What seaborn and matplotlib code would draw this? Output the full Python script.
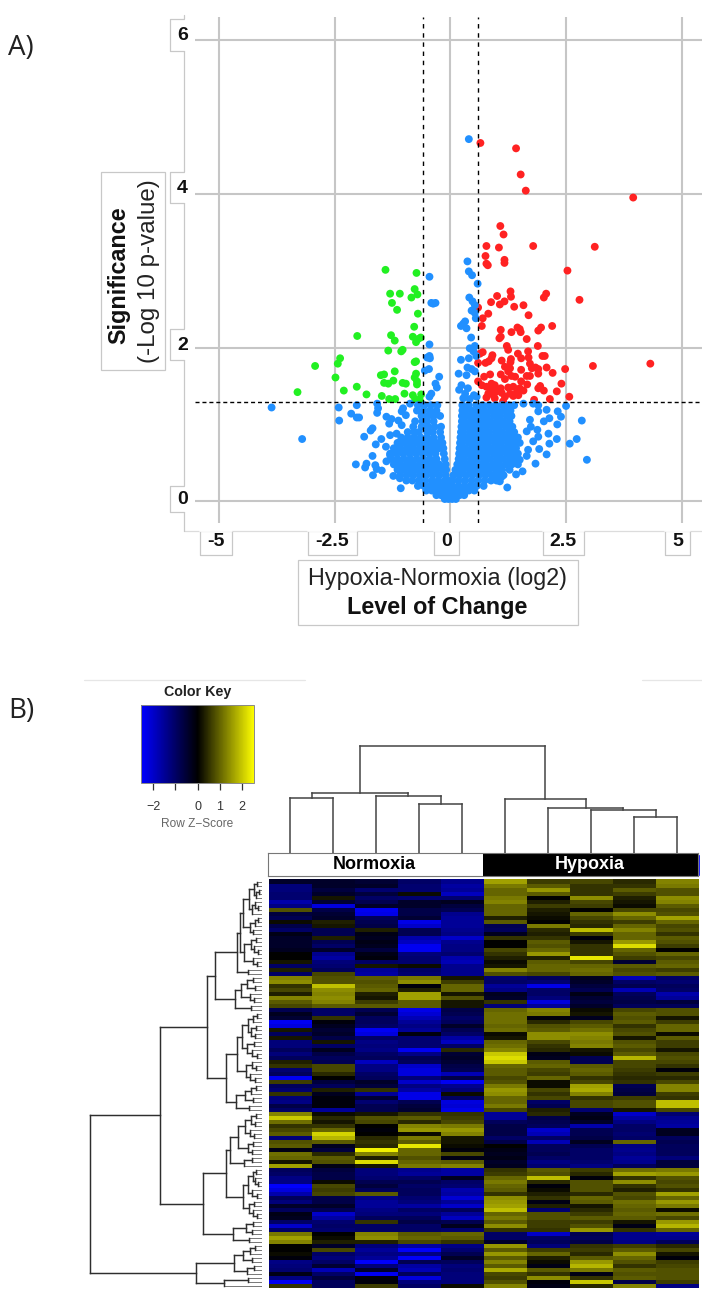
import numpy as np
import pandas as pd
import matplotlib
matplotlib.use('Agg')
import matplotlib.pyplot as plt
from matplotlib.colors import LinearSegmentedColormap
from matplotlib.patches import Rectangle
import seaborn as sns

W, H = 702, 1289

# Volcano data
red_x = [0.65,1.42,1.52,1.63,3.95,1.08,1.15,0.78,1.05,1.79,3.12,0.76,1.17,1.17,0.78,0.81,2.53,1.30,2.07,2.02,
         1.01,1.31,1.17,0.88,1.07,2.79,1.58,1.38,0.60,0.82,1.69,0.70,0.68,2.20,1.96,1.90,1.45,1.50,1.32,1.52,
         1.09,1.09,1.06,1.65,1.22,1.25,1.89,0.70,0.64,1.46,1.68,1.99,2.04,0.91,0.89,1.53,1.69,1.11,1.31,1.30,
         0.83,0.76,0.60,1.72,1.84,1.90,2.08,2.48,3.08,4.32,1.18,1.29,1.53,1.76,1.25,2.21,1.90,1.32,1.40,0.86,
         1.09,0.73,1.65,1.72,1.18,1.53,0.60,0.68,0.89,0.96,1.66,2.40,1.94,1.90,2.02,2.30,1.36,1.25,1.09,0.78,
         0.89,1.00,1.50,1.58,1.43,1.29,1.11,0.82,0.93,1.18,1.36,1.47,2.57,2.15,1.81,0.78,0.96,1.14]
red_y = [4.66,4.59,4.25,4.04,3.95,3.58,3.47,3.32,3.30,3.32,3.31,3.19,3.14,3.10,3.09,3.07,3.00,2.73,2.70,2.65,
         2.67,2.66,2.60,2.59,2.56,2.62,2.55,2.53,2.52,2.44,2.42,2.38,2.28,2.28,2.26,2.22,2.26,2.24,2.20,2.20,
         2.23,2.14,2.12,2.11,2.02,1.97,2.02,1.94,1.92,1.92,1.95,1.89,1.89,1.90,1.86,1.86,1.87,1.83,1.85,1.81,
         1.82,1.80,1.80,1.79,1.74,1.72,1.74,1.72,1.76,1.79,1.75,1.73,1.71,1.73,1.69,1.67,1.66,1.63,1.62,1.65,
         1.65,1.62,1.63,1.63,1.59,1.56,1.56,1.51,1.53,1.51,1.52,1.53,1.50,1.47,1.44,1.43,1.49,1.48,1.47,1.49,
         1.45,1.43,1.47,1.44,1.41,1.40,1.41,1.40,1.38,1.36,1.37,1.38,1.36,1.33,1.32,1.35,1.34,1.30]

green_x = [-1.40,-0.73,-0.77,-1.30,-1.09,-0.71,-0.84,-1.26,-1.15,-0.70,-0.78,-2.01,-1.28,-0.81,-0.64,-0.70,-1.20,
           -0.74,-1.34,-1.03,-1.06,-2.38,-2.43,-2.92,-0.74,-0.77,-1.20,-0.74,-1.43,-1.50,-0.77,-2.48,-1.43,-1.34,
           -1.23,-1.03,-0.96,-0.72,-0.72,-2.02,-2.30,-3.30,-1.81,-1.48,-0.99,-0.81,-0.63,-1.32,-1.19,-0.76,-0.66]
green_y = [3.01,2.97,2.76,2.70,2.70,2.69,2.65,2.58,2.49,2.44,2.27,2.15,2.16,2.14,2.13,2.11,2.09,
           2.07,1.96,1.97,1.95,1.86,1.79,1.76,1.82,1.81,1.69,1.66,1.65,1.64,1.61,1.61,1.54,1.53,
           1.57,1.54,1.53,1.56,1.52,1.49,1.44,1.42,1.39,1.37,1.40,1.38,1.39,1.33,1.33,1.33,1.32]

blue_x = [0.40,0.37,0.40,0.47,-0.45,0.59,0.41,0.48,-0.41,-0.32,-0.37,0.53,0.46,0.53,0.55,0.32,0.23,0.35,0.28,0.45,
          0.53,-0.45,0.42,0.50,0.56,0.23,0.40,-0.45,-0.50,-0.44,0.37,0.46,-0.46,-0.55,0.53,0.18,-0.24,-0.32,0.35,-0.29,
          0.24,0.19,0.38,-0.41,-0.45,0.32,0.51,0.28,0.42,0.57,
          -3.86,-2.41,-2.02,-1.58,-1.56,-1.58,-2.40,-3.20,-2.14,-2.02,-1.97,-1.38,-1.27,-1.32,-1.12,-1.05,-1.02,-0.96,-1.05,-0.87,
          -1.30,-1.16,-1.68,-1.72,-1.86,-1.49,-1.61,-1.39,-1.30,-1.68,-1.38,-2.04,-1.81,-1.84,-1.62,-1.59,-1.67,-1.48,-1.23,-1.09,-1.07,
          2.84,2.95,2.73,2.58,2.50,2.32,2.39,2.31,2.12,2.30,2.14,1.92,2.08,1.84,1.56,1.23,2.08,2.14,2.02,1.90,1.90,1.72,1.74,1.65,1.88,
          1.90,1.79,1.68,1.65,1.50,1.42,1.11,1.07,1.58,1.79]
blue_y = [4.71,3.12,2.99,2.94,2.92,2.83,2.65,2.60,2.58,2.58,2.57,2.55,2.48,2.45,2.38,2.34,2.28,2.25,2.31,2.13,
          2.02,2.04,1.99,1.95,1.89,1.84,1.86,1.89,1.87,1.86,1.74,1.72,1.72,1.70,1.69,1.66,1.62,1.53,1.64,1.48,
          1.51,1.45,1.47,1.40,1.36,1.40,1.38,1.34,1.33,1.36,
          1.22,1.22,1.25,1.27,1.21,1.15,1.05,0.81,1.14,1.09,1.09,1.10,1.07,1.01,1.05,0.99,1.21,1.12,1.17,1.27,
          0.86,0.88,0.95,0.92,0.84,0.81,0.74,0.71,0.60,0.59,0.52,0.48,0.49,0.44,0.47,0.42,0.34,0.40,0.33,0.30,0.17,
          1.05,0.54,0.81,0.75,1.24,1.17,1.10,1.00,0.88,0.81,0.75,0.68,0.61,0.49,0.39,0.18,1.19,1.08,1.04,1.17,1.25,1.06,0.97,0.91,0.93,
          0.84,0.78,0.67,0.59,0.54,0.35,0.32,0.26,1.27,1.27]

# The dense part of the cloud, row by row
blue_cloud = [
    (0.03, [-0.12,-0.04,0.04,0.12]),
    (0.08, [-0.3,-0.2,-0.1,0,0.1,0.2,0.3]),
    (0.14, [-0.52,-0.4,-0.28,-0.16,-0.05,0.05,0.16,0.28,0.4,0.52]),
    (0.20, [-0.7,-0.57,-0.44,-0.31,-0.18,-0.06,0.05,0.18,0.31,0.44,0.57,0.72]),
    (0.27, [-0.95,-0.82,-0.68,-0.54,-0.4,-0.26,-0.12,-0.04,0.05,0.18,0.32,0.46,0.6,0.74,0.88,1.0]),
    (0.34, [-1.08,-0.94,-0.8,-0.66,-0.52,-0.38,-0.24,-0.1,0.07,0.2,0.34,0.48,0.62,0.76,0.9,1.02,1.15]),
    (0.41, [-1.14,-1.0,-0.86,-0.72,-0.58,-0.44,-0.3,-0.16,-0.09,0.11,0.15,0.28,0.42,0.56,0.7,0.84,0.98,1.12,1.28]),
    (0.48, [-1.22,-1.08,-0.94,-0.8,-0.66,-0.52,-0.38,-0.24,-0.1,0.15,0.22,0.36,0.5,0.64,0.78,0.92,1.06,1.2,1.33,1.46]),
    (0.55, [-1.28,-1.14,-1.0,-0.86,-0.72,-0.58,-0.44,-0.3,-0.12,0.18,0.3,0.44,0.58,0.72,0.86,1.0,1.14,1.28,1.42]),
    (0.62, [-1.3,-1.16,-1.02,-0.88,-0.74,-0.6,-0.46,-0.32,-0.14,0.19,0.24,0.38,0.52,0.66,0.8,0.94,1.08,1.22,1.36,1.46]),
    (0.69, [-1.22,-1.08,-0.94,-0.8,-0.66,-0.52,-0.38,-0.24,-0.15,0.2,0.32,0.46,0.6,0.74,0.88,1.02,1.16,1.3,1.42]),
    (0.76, [-1.14,-1.0,-0.86,-0.72,-0.58,-0.44,-0.3,-0.17,0.21,0.26,0.4,0.54,0.68,0.82,0.96,1.1,1.24,1.38,1.5]),
    (0.83, [-1.06,-0.92,-0.78,-0.64,-0.5,-0.36,-0.2,0.22,0.34,0.48,0.62,0.76,0.9,1.04,1.18,1.32,1.46]),
    (0.90, [-0.92,-0.78,-0.68,-0.5,-0.38,-0.22,0.23,0.28,0.42,0.56,0.7,0.84,0.98,1.12,1.26,1.38]),
    (0.97, [-0.8,-0.62,-0.48,-0.34,-0.2,0.24,0.36,0.5,0.64,0.78,0.92,1.06,1.2,1.34]),
    (1.04, [-0.76,-0.6,-0.5,-0.36,0.25,0.3,0.44,0.58,0.72,0.86,1.0,1.14,1.28]),
    (1.11, [-0.62,-0.48,-0.36,-0.22,0.25,0.38,0.52,0.66,0.8,0.94,1.08,1.22,1.32]),
    (1.18, [-0.72,-0.58,-0.44,-0.3,0.26,0.32,0.46,0.6,0.74,0.88,1.02,1.16,1.3]),
    (1.25, [-0.7,-0.56,-0.42,-0.28,0.26,0.4,0.56,0.7,0.84,0.98,1.12,1.26,1.38]),
]

x_ticks = [-5, -2.5, 0, 2.5, 5]
y_ticks = [0, 2, 4, 6]
x_tick_labels = ['-5', '-2.5', '0', '2.5', '5']
y_tick_labels = ['0', '2', '4', '6']
fc_cut = [-0.58, 0.59]
p_cut = 1.295

# Heatmap values, z-scores, Normoxia 5 columns then Hypoxia 5 columns
heat_rows = [
    [-.4,-.4,-.5,-1.0,-1.4,1.6,.6,.7,.4,1.3],
    [-1.2,-.4,-.4,-1.1,-1.6,1.2,.9,.5,.5,1.2],
    [-1.2,-.6,-1.1,-1.1,-1.5,1.0,1.5,.5,.9,.8],
    [-1.1,-.4,-.6,.1,-1.9,1.0,.9,.5,.6,.8],
    [-1.1,.2,-1.0,-1.1,-1.1,1.2,0,1.4,.3,1.4],
    [-1.7,-.5,-.8,-.4,-.3,1.3,.3,.7,.2,1.3],
    [-1.3,-2.2,-.4,-.4,-.6,1.0,.6,.6,.1,.9],
    [.8,-.7,-2.4,-.7,-.8,1.0,.3,0,.7,.7],
    [-.6,-.5,-2.3,-.7,-1.4,1.0,.2,1.0,1.4,.8],
    [-.8,-.4,-.9,-.5,-1.5,.3,.1,.7,1.0,1.6],
    [.1,.3,-.8,-2.3,-1.5,.9,0,.5,.6,1.0],
    [-.7,.2,-.7,-2.0,-1.5,-.8,1.2,.4,1.0,.7],
    [-1.0,-.8,.3,-.8,-1.4,-.9,.4,1.9,1.3,.8],
    [-.2,-.8,-.2,-.8,-1.3,-.3,.3,.6,1.0,.5],
    [-.4,.3,-.3,-1.7,-2.0,.5,.5,-.1,1.0,.9],
    [-.4,-.8,-.2,-1.9,-1.4,0,.9,.2,1.5,.8],
    [-.4,-1.0,-.3,-2.4,-1.3,0,.8,.5,2.2,.6],
    [-.3,-.4,-.6,-2.4,-1.3,.7,1.0,.5,1.0,0],
    [0,-1.4,-.2,-1.2,-1.1,.5,1.5,.5,.8,1.0],
    [0,-1.6,-.1,-1.1,-1.7,.3,.3,2.3,.6,.7],
    [.2,-1.2,-1.0,-1.1,-1.8,.1,.9,.7,-.5,.9],
    [-1.0,-1.1,.2,.1,-1.4,.2,1.0,1.0,.9,1.0],
    [.3,-.9,-1.5,-1.0,-1.4,1.3,1.0,1.1,.7,.6],
    [-1.0,.7,-1.6,-1.1,-1.4,.8,.7,1.0,.8,.9],
    [1.3,.8,.9,1.2,.2,-1.1,-.9,-.3,-1.8,-1.0],
    [1.4,.8,.8,1.4,.6,-1.0,-1.1,-.4,-1.0,-1.1],
    [.5,1.9,.9,-.1,1.0,-1.5,-2.3,-.6,-.8,-.9],
    [.7,1.4,1.0,.3,1.0,-1.3,-1.0,-.8,-1.8,-1.0],
    [.3,1.3,.3,1.6,.2,-.3,-1.0,-.2,-.9,-1.7],
    [1.3,1.4,.2,1.6,.8,-.4,-1.2,-.5,-.8,-1.5],
    [.9,1.3,.6,.9,.2,.5,-2.2,-.6,-.7,-.6],
    [.7,.9,.9,.9,.2,-1.2,-1.5,-.4,-.9,-.9],
    [-.8,-1.0,-.8,-2.3,-.7,1.0,1.3,.1,.7,.8],
    [-.3,-1.0,-.5,-2.1,-.8,1.1,1.2,.2,.9,.8],
    [-.5,.5,-.9,-1.8,-1.0,1.1,-.1,-.3,.8,.2],
    [-2.4,-.1,-.9,-1.5,-.9,1.1,.4,.7,.9,.6],
    [-2.2,-.3,-1.0,-1.3,-.4,1.0,.8,.9,.5,1.0],
    [.2,-.5,-2.4,-1.5,-.8,1.1,.9,1.1,.7,1.0],
    [-.9,-.4,-2.2,-.1,-1.0,.1,1.4,1.4,.8,.1],
    [.2,-.7,-1.0,-1.1,-1.6,.2,1.4,1.3,.2,.9],
    [-1.2,.2,-1.3,-1.1,-1.9,1.0,.7,1.2,.8,.6],
    [-1.2,-1.0,-1.2,-1.1,-1.0,1.1,.5,1.3,.9,.6],
    [-.9,-.3,-1.3,-2.4,.4,1.3,.4,.2,.7,.2],
    [-1.2,-.7,-1.0,-1.3,-.5,2.0,-.2,.1,.9,.7],
    [-.9,-.9,-.9,-.8,-.4,2.2,-.3,-.8,1.8,.8],
    [.3,-.8,-1.9,-.9,-.5,2.0,.9,-.8,.7,.7],
    [.5,.7,-1.3,-2.0,-.7,1.0,1.0,.9,.7,.5],
    [-1.1,.7,-1.3,-2.2,-.8,.9,.7,1.0,.6,-.1],
    [-.9,.4,-1.0,-2.2,-1.8,.9,.6,.9,.5,.6],
    [-2.4,0,-.9,-1.2,-.7,.7,1.0,.5,.4,.4],
    [.6,-.6,-.4,-2.0,-2.4,.8,.1,.7,.5,.7],
    [-.9,-.9,-.6,-1.3,-1.4,1.2,.1,1.6,-.8,1.3],
    [-1.1,.3,.5,-1.6,-1.2,1.5,.7,1.7,-.7,1.3],
    [.5,-.3,-1.5,-2.3,.1,1.4,.5,1.3,-.6,.6],
    [-1.2,-.1,-.5,-2.3,-1.0,1.0,.7,.5,.6,.5],
    [-1.3,-.1,-1.1,-.8,-2.2,1.0,-1.0,.7,.8,1.9],
    [-.7,-.1,-.8,-.6,-2.1,1.2,-.8,.7,.8,1.9],
    [-1.0,-1.5,-.8,-.5,-2.3,.7,.3,-1.1,.2,.7],
    [1.3,.1,.2,.5,.5,-1.5,.4,-.3,-2.0,-1.1],
    [2.0,.4,.8,.9,.6,-1.5,-.7,-.2,-1.6,-1.4],
    [1.1,.2,.7,.4,.7,-.9,-.8,-.4,-1.3,-1.5],
    [.5,.5,0,1.3,1.2,-.7,-.9,-1.7,-1.0,-1.6],
    [.7,1.0,-.1,1.5,1.5,-.7,-2.0,-.8,-1.0,-.3],
    [.9,2.1,0,.1,1.3,-.7,-1.8,-.8,-1.1,-.3],
    [-1.2,1.8,.4,1.2,.2,-1.0,-1.0,-.7,-1.0,-.9],
    [.8,.9,.5,.9,.2,-.7,-1.8,-.3,1.0,-.8],
    [.9,-.3,.4,2.3,.1,0,-.9,-.8,-1.3,-.9],
    [-.2,-.6,2.4,1.0,-.1,-.2,-.9,-1.0,-1.4,-.9],
    [1.1,.4,1.3,1.0,.7,-.3,-.8,-1.0,-1.3,-.9],
    [1.0,.9,.3,.8,-.2,-.2,-1.0,-1.0,-1.5,-1.2],
    [.2,.8,2.2,1.0,.9,-.4,-1.3,-1.1,-1.4,-.6],
    [1.6,-.2,.2,1.2,1.3,-.3,-1.1,-1.3,-.9,-.6],
    [-.9,-.6,-1.2,-1.4,-1.6,.5,.9,.6,1.1,1.2],
    [-1.0,-.7,-1.2,-1.5,-1.6,.6,.8,.4,1.6,1.5],
    [-1.3,-.7,-1.1,-1.0,-.3,1.0,1.9,-.1,.5,.8],
    [-1.3,.1,-.8,-.8,-1.0,1.2,.4,.8,1.4,.7],
    [-2.5,.7,-.6,-1.0,-1.1,1.0,-.1,.8,.5,.8],
    [-2.2,.6,-.9,-.9,-1.7,.9,.1,.8,.3,.5],
    [-1.7,.7,.9,-.9,-1.6,.5,.3,.4,.8,1.6],
    [-.9,-.7,-1.3,-1.1,-2.1,1.4,.5,1.0,.7,1.0],
    [-1.2,-.7,-1.5,-1.2,-1.5,1.5,-.2,.9,1.1,1.5],
    [-.4,-.4,-1.5,-1.6,-2.0,1.6,.3,.2,1.0,1.2],
    [-.9,-.8,-1.3,-1.0,-.9,1.9,-1.1,.4,.9,.1],
    [-.2,-2.0,-1.2,-1.2,-1.5,1.0,.8,.6,1.0,1.1],
    [-.3,-1.6,-.9,-.9,-1.9,1.2,.8,.9,.9,.7],
    [-1.0,-1.1,.5,-.7,-.8,.9,.6,.6,.2,1.5],
    [-2.0,-1.0,-1.0,-1.0,-.3,1.4,.6,.8,-.2,1.8],
    [-1.0,-1.1,-1.0,-1.0,-1.1,.5,.5,1.5,.5,1.0],
    [1.2,0,1.3,.9,1.0,-1.0,-2.0,-.8,-1.4,-1.5],
    [1.6,.1,1.4,1.0,.9,-1.0,-1.0,-.9,-1.4,-1.4],
    [1.3,.3,.3,.7,.5,-.4,-.9,-.7,-1.3,-.9],
    [0,-.4,-1.2,-1.6,-1.3,1.5,-1.2,.5,.6,.4],
    [0,.7,-1.5,-2.5,-1.1,.9,.6,.6,.9,.7],
    [.1,-1.0,-1.3,-1.3,-.8,1.5,1.0,.4,1.4,.2],
    [-.1,-1.2,-1.5,-2.5,-.4,.9,.3,.9,1.0,-.1],
    [-1.3,-1.0,-2.5,-.8,-.9,1.3,.1,1.5,.8,.6],
    [-1.2,-.5,-1.2,-1.6,-1.2,.9,-.2,1.8,.5,.7],
    [-1.1,-1.8,-.4,-1.8,-1.1,1.7,.9,1.2,.9,.8],
    [-.2,-1.0,-2.4,-.9,-1.2,.7,.5,-.2,.8,.8],
    [-1.3,-.6,-.1,-2.2,-1.2,.6,1.4,.5,.9,.8],
    [-2.4,-.9,-.1,-1.2,-1.2,.8,-.1,2.0,-.7,.6],
    [.5,-.9,.6,-1.0,.1,1.3,-.2,.4,1.3,-1.3],
]

# Dendrograms: (height, child, child), an int is a leaf
col_tree = (107, (60.4, (55, 0, 1), (57, 2, (49, 3, 4))),
            (54, 5, (44.7, 6, (42.7, 7, (35.7, 8, 9)))))

top_a = (19, (13, (8, (5, 0, 1), (6, (3, 2, 3), 4)), (10, (7, 5, (4, 6, 7)), 8)),
         (12, (7, (4, 9, 10), 11), (9, 12, 13)))
top_b = (18, (11, (6, 14, 15), (8, 16, (4, 17, 18))), (9, 19, (5, 20, 21)))
a1a = (25, (22, top_a, top_b), (14, 22, 23))
a1b = (27, (21, (15, (9, 24, 25), (7, 26, 27)), (12, 28, (8, 29, 30))), (11, 31, 32))
c1 = (20, (14, (9, (5, 33, 34), 35), (11, (6, 36, 37), (7, 38, 39))),
      (15, (8, 40, 41), (10, 42, (5, 43, 44))))
c2 = (16, (10, 45, (6, 46, 47)), (12, 48, (7, 49, 50)))
a2b = (26, (17, (11, (6, 51, 52), 53), (9, 54, 55)), (13, 56, 57))
part_a = (55, (47, a1a, a1b), (36, (25, c1, c2), a2b))
d1 = (24, (17, (11, (6, 58, 59), (7, 60, 61)), (12, 62, (8, 63, 64))), (14, (9, 65, 66), (10, 67, 68)))
d2 = (18, (10, 69, 70), 71)
e1 = (14, (9, (6, 72, 73), (7, 74, (4, 75, 76))), (10, 77, (5, 78, 79)))
e2 = (13, (8, 80, 81), (9, 82, (5, 83, 84)))
part_b = (59, (36, (32, d1, d2), (19, e1, e2)), (29, (16, (9, 85, 86), (10, 87, 88)), (13, 89, 90)))
g1 = (19, (12, (7, 91, 92), 93), (10, 94, 95))
g2 = (15, (8, 96, 97), 98)
part_c = (66, (28, g1, g2), (38, (14, 99, 100), 101))
row_tree = (172, (102, part_a, part_b), part_c)

group_labels = ['Normoxia', 'Hypoxia']
key_ticks = [-2, -1, 0, 1, 2]
key_tick_labels = ['\u22122', '', '0', '1', '2']

sns.set_theme(style='white')
plt.rcParams['font.family'] = ['Liberation Sans', 'DejaVu Sans']

fig = plt.figure(figsize=(W / 100, H / 100), dpi=100)


def px_axes(left, top, right, bottom, **kw):
    return fig.add_axes([left / W, 1 - bottom / H, (right - left) / W, (bottom - top) / H], **kw)


def draw_tree(ax, node, horizontal=False, color='#333333', lw=1.05, leaf_lw=None):
    # returns leaf-axis position and height of the node
    if isinstance(node, int):
        return node + 0.5, 0
    h, a, b = node
    pa, ha = draw_tree(ax, a, horizontal, color, lw, leaf_lw)
    pb, hb = draw_tree(ax, b, horizontal, color, lw, leaf_lw)
    for pos, low, child in ((pa, ha, a), (pb, hb, b)):
        is_leaf = isinstance(child, int) and leaf_lw is not None
        c = '#777777' if is_leaf else color
        w = leaf_lw if is_leaf else lw
        if horizontal:
            ax.plot([h, low], [pos, pos], color=c, lw=w, solid_capstyle='projecting')
        else:
            ax.plot([pos, pos], [h, low], color=c, lw=w, solid_capstyle='projecting')
    if horizontal:
        ax.plot([h, h], [pa, pb], color=color, lw=lw, solid_capstyle='projecting')
    else:
        ax.plot([pa, pb], [h, h], color=color, lw=lw, solid_capstyle='projecting')
    return (pa + pb) / 2, h


# ---------- A) volcano ----------
cloud_x = [x for y, xs in blue_cloud for x in xs]
cloud_y = [y for y, xs in blue_cloud for x in xs]
df = pd.DataFrame({
    'change': red_x + green_x + blue_x + cloud_x,
    'sig': red_y + green_y + blue_y + cloud_y,
    'group': ['up'] * len(red_x) + ['down'] * len(green_x) + ['ns'] * (len(blue_x) + len(cloud_x)),
})

ax = px_axes(195, 17, 702, 523)
sns.scatterplot(data=df, x='change', y='sig', hue='group', ax=ax, legend=False, s=32, linewidth=0,
                palette={'up': '#ff2222', 'down': '#22f022', 'ns': '#2190ff'}, zorder=3)
ax.set_xlim(-5.514, 5.436)
ax.set_ylim(-0.282, 6.298)
ax.set_xticks(x_ticks)
ax.set_yticks(y_ticks)
ax.set_xlabel('')
ax.set_ylabel('')
ax.tick_params(length=0, labelbottom=False, labelleft=False)
ax.grid(True, color='#c6c6c6', lw=1.5)
ax.set_axisbelow(True)
sns.despine(ax=ax, left=True, bottom=True)
for x in fc_cut:
    ax.axvline(x, color='black', lw=1.0, ls=(0, (3.2, 3.4)), zorder=4)
ax.axhline(p_cut, color='black', lw=1.0, ls=(0, (2.9, 2.1)), zorder=4)

# ---------- B) heatmap ----------
cmap = LinearSegmentedColormap.from_list('byk', ['#0000ff', '#000000', '#ffff00'])
key_ax = px_axes(141, 705, 254.5, 782.5)
heat_ax = px_axes(268.5, 879.5, 698.5, 1288)
sns.heatmap(np.array(heat_rows), ax=heat_ax, cmap=cmap, vmin=-2.55, vmax=2.55, xticklabels=False, yticklabels=False,
            cbar_ax=key_ax, cbar_kws={'orientation': 'horizontal'})
cbar = heat_ax.collections[0].colorbar
cbar.set_ticks(key_ticks)
cbar.set_ticklabels(key_tick_labels)
cbar.ax.tick_params(length=5, width=0.9, color='#333333', labelsize=9, labelcolor='#333333', pad=8, bottom=True)
cbar.outline.set_edgecolor('#888888')
cbar.outline.set_linewidth(0.7)
cbar.outline.set_visible(True)

bar_ax = px_axes(268, 853, 698, 876)
sns.heatmap([[0, 1]], ax=bar_ax, cmap=['white', 'black'], cbar=False, xticklabels=False, yticklabels=False)
for spine in bar_ax.spines.values():
    spine.set_visible(True)
    spine.set_edgecolor('#777777')
    spine.set_linewidth(0.8)
for i, name in enumerate(group_labels):
    bar_ax.text(i + 0.5 - 0.005, 0.52, name, ha='center', va='center', color=['black', 'white'][i], fontsize=13,
                fontweight='bold')

col_ax = px_axes(268.5, 740, 698.5, 853)
draw_tree(col_ax, col_tree, color='#444444', lw=1.1)
col_ax.set_xlim(0, 10)
col_ax.set_ylim(0, 113)
col_ax.axis('off')

row_ax = px_axes(88, 879.5, 262, 1288)
draw_tree(row_ax, row_tree, horizontal=True, color='#2e2e2e', lw=1.05, leaf_lw=0.7)
row_ax.set_xlim(174, 0)
row_ax.set_ylim(102, 0)
row_ax.axis('off')

# ---------- boxes, labels ----------
deco = fig.add_axes([0, 0, 1, 1], zorder=10)
deco.set_xlim(0, W)
deco.set_ylim(H, 0)
deco.axis('off')
deco.patch.set_alpha(0)
edge = '#c8c8c8'

deco.plot([184, 702], [531, 531], color='#dcdcdc', lw=0.9)
deco.plot([184, 184], [15, 531], color=edge, lw=0.9)

for label, top, bottom in zip(y_tick_labels, [486, 328.5, 172, 19], [512, 360, 203, 50.5]):
    deco.add_patch(Rectangle((170, top), 21, bottom - top, fc='white', ec='none', zorder=2))
    deco.plot([184, 170, 170, 184], [top, top, bottom, bottom], color=edge, lw=0.9, zorder=3)
    deco.text(182.5, (top + bottom) / 2 + 1, label, ha='center', va='center', fontsize=14, fontweight='bold',
              color='#111111', zorder=4)

x_boxes = [(199.5, 231.5), (308, 357), (434, 459), (542.5, 584), (665, 690)]
for label, (left, right) in zip(x_tick_labels, x_boxes):
    deco.plot([left, left, right, right], [531, 555, 555, 531], color=edge, lw=0.9)
    deco.plot([left, right], [531, 531], color='white', lw=1.2)
    deco.text((left + right) / 2, 541, label, ha='center', va='center', fontsize=14, fontweight='bold', color='#111111')

deco.add_patch(Rectangle((100.5, 172), 64.5, 198, fc='white', ec=edge, lw=0.9))
deco.text(119, 275, 'Significance', rotation=90, ha='center', va='center', fontsize=16.8, fontweight='bold', color='#111111')
deco.text(149.5, 271, '(-Log 10 p-value)', rotation=90, ha='center', va='center', fontsize=17.4, color='#222222')

deco.add_patch(Rectangle((297.5, 560), 280, 65, fc='white', ec=edge, lw=0.9))
deco.text(437.5, 579, 'Hypoxia-Normoxia (log2)', ha='center', va='center', fontsize=16.8, color='#222222')
deco.text(437.5, 607.5, 'Level of Change', ha='center', va='center', fontsize=16.8, fontweight='bold', color='#111111')

deco.text(8, 48, 'A)', ha='left', va='center', fontsize=20, family=['Open Sans'], color='#222222')
deco.text(8, 711, 'B)', ha='left', va='center', fontsize=20, family=['Open Sans'], color='#222222')

deco.text(197.5, 692, 'Color Key', ha='center', va='center', fontsize=10.3, fontweight='bold', color='#222222')
deco.text(197.5, 824, 'Row Z\u2212Score', ha='center', va='center', fontsize=8.6, color='#666666')

deco.plot([84, 305], [680, 680], color='#e6e6e6', lw=0.9)
deco.plot([642, 702], [680, 680], color='#e6e6e6', lw=0.9)
deco.plot([698.5, 698.5], [855, 875], color='#2020ff', lw=0.7)

fig.savefig('out.png', dpi=100)
